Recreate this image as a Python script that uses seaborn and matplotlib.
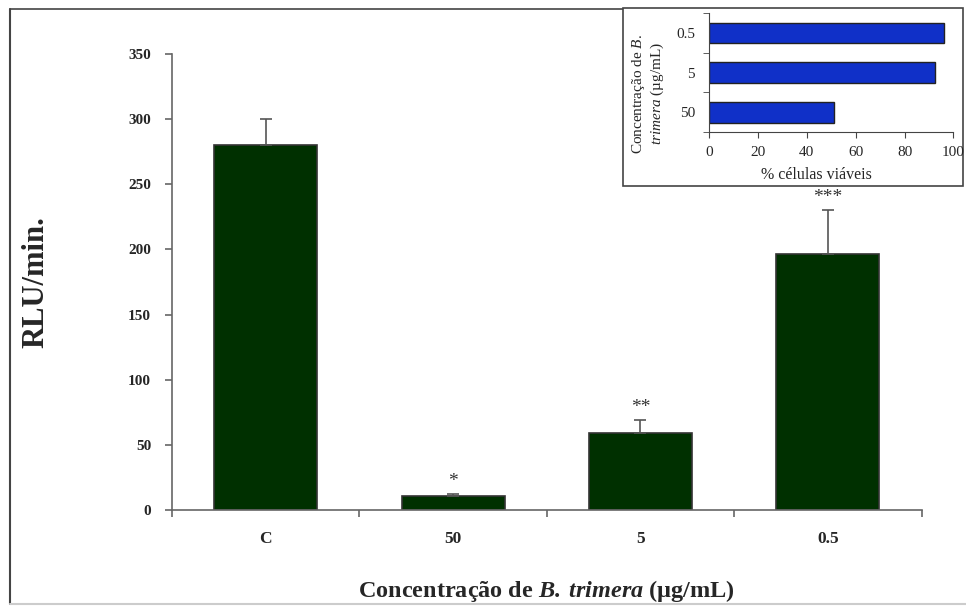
import matplotlib
matplotlib.use("Agg")
import matplotlib.pyplot as plt
import seaborn as sns
import pandas as pd
from matplotlib.lines import Line2D
from matplotlib.patches import Rectangle

# dados do grafico principal
categorias = ["C", "50", "5", "0.5"]
rlu = [280, 11, 59.5, 196.5]
erro = [20, 1.5, 9.5, 33.5]
signif = ["", "*", "**", "***"]

# dados do grafico menor (viabilidade)
conc_inset = ["0.5", "5", "50"]
viaveis = [96.3, 92.5, 51.2]

sns.set_style("ticks")
plt.rcParams["font.family"] = ["Liberation Serif", "DejaVu Serif"]
plt.rcParams["mathtext.fontset"] = "custom"
plt.rcParams["mathtext.rm"] = "Liberation Serif"
plt.rcParams["mathtext.it"] = "Liberation Serif:italic"
plt.rcParams["mathtext.bf"] = "Liberation Serif:bold"
plt.rcParams["mathtext.bfit"] = "Liberation Serif:bold:italic"

cor_eixo = "#666666"
fig = plt.figure(figsize=(9.66, 6.06), dpi=100)
fig.patch.set_facecolor("white")

ax = fig.add_axes([0.178, 0.158, 0.776, 0.753])
df = pd.DataFrame({"conc": categorias, "rlu": rlu})
sns.barplot(data=df, x="conc", y="rlu", order=categorias, color="#003000",
            width=0.55, edgecolor="#333333", linewidth=1.2, saturation=1, ax=ax)
ax.errorbar(range(len(categorias)), rlu, yerr=[[0] * len(erro), erro], fmt="none",
            ecolor="#555555", elinewidth=1.2, capsize=4, capthick=1.2)
for i, (v, e, s) in enumerate(zip(rlu, erro, signif)):
    if s:
        ax.annotate(s, xy=(i, v + e), xytext=(0, 3), textcoords="offset points",
                    ha="center", va="bottom", fontsize=14, color="#333333")

ax.set_xlim(-0.5, 3.5)
ax.set_ylim(0, 350)
ax.set_yticks(range(0, 351, 50))
ax.set_xticks([-0.5, 0.5, 1.5, 2.5, 3.5], minor=True)
ax.tick_params(axis="x", which="major", length=0, pad=15, labelsize=12.5)
ax.tick_params(axis="x", which="minor", length=5, color=cor_eixo, width=1.2)
ax.tick_params(axis="y", length=5, color=cor_eixo, width=1.2, pad=10, labelsize=11)
for lab in ax.get_xticklabels() + ax.get_yticklabels():
    lab.set_fontweight("bold")
sns.despine(ax=ax)
for sp in ["left", "bottom"]:
    ax.spines[sp].set_color(cor_eixo)
    ax.spines[sp].set_linewidth(1.2)
ax.set_ylabel("RLU/min.", fontsize=22, fontweight="bold", labelpad=56)
ax.set_xlabel(r"$\mathbf{Concentração\ de\ }\mathbfit{B.\;trimera}\mathbf{\ (µg/mL)}$",
              fontsize=17.5, labelpad=22)

# moldura da figura
fig.add_artist(Line2D([0.0104, 0.0104], [0.003, 0.985], color="#444444", lw=1.5))
fig.add_artist(Line2D([0.0104, 0.645], [0.985, 0.985], color="#444444", lw=1.2))
fig.add_artist(Line2D([0.0104, 1.0], [0.004, 0.004], color="#cccccc", lw=1.5))

# caixa do grafico menor
fig.add_artist(Rectangle((0.645, 0.693), 0.352, 0.294, transform=fig.transFigure,
                         facecolor="white", edgecolor="#444444", lw=1.2, zorder=5))

axi = fig.add_axes([0.734, 0.782, 0.253, 0.1965], zorder=6)
dfi = pd.DataFrame({"conc": conc_inset, "viaveis": viaveis})
sns.barplot(data=dfi, y="conc", x="viaveis", order=conc_inset, orient="h",
            color="#1030C8", width=0.52, edgecolor="#222222", linewidth=1,
            saturation=1, ax=axi)
axi.set_xlim(0, 100)
axi.set_xticks(range(0, 101, 20))
axi.set_ylim(2.5, -0.5)
axi.set_yticks([-0.5, 0.5, 1.5, 2.5], minor=True)
axi.tick_params(axis="y", which="major", length=0, pad=10, labelsize=11)
axi.tick_params(axis="y", which="minor", length=4, color="#444444")
axi.tick_params(axis="x", length=4, color="#444444", labelsize=11, pad=6)
sns.despine(ax=axi)
axi.spines["left"].set_color("#444444")
axi.spines["bottom"].set_color("#444444")
axi.set_xlabel("% células viáveis", fontsize=11.5)
axi.xaxis.set_label_coords(0.44, -0.29)
axi.set_ylabel("Concentração de $\\mathit{B.}$\n$\\mathit{trimera}$ (µg/mL)",
               fontsize=11, linespacing=1.15)
axi.yaxis.set_label_coords(-0.175, 0.32)

fig.savefig("out.png", dpi=100, facecolor="white")
